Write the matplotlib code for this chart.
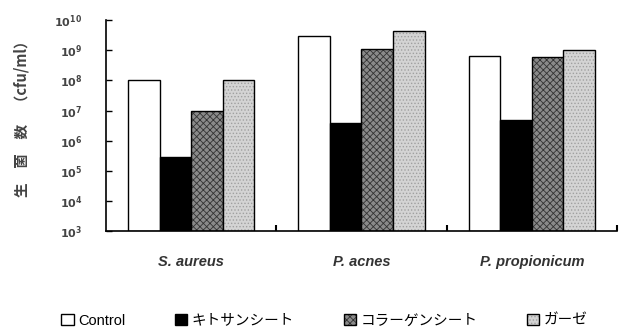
import matplotlib
matplotlib.use("Agg")
import matplotlib.pyplot as plt
import numpy as np

plt.rcParams['font.family'] = ['Liberation Sans', 'Noto Sans CJK JP', 'DejaVu Sans']
plt.rcParams['hatch.linewidth'] = 0.6

categories = ["S. aureus", "P. acnes", "P. propionicum"]
series = ["Control", "キトサンシート", "コラーゲンシート", "ガーゼ"]
control = [1.0e8, 3.0e9, 6.3e8]
chitosan = [2.8e5, 4.0e6, 4.8e6]
collagen = [1.0e7, 1.1e9, 6.0e8]
gauze = [1.0e8, 4.3e9, 1.05e9]
yticks = [1e3, 1e4, 1e5, 1e6, 1e7, 1e8, 1e9, 1e10]
ytick_labels = [r"$\mathbf{10^{%d}}$" % k for k in range(3, 11)]

values = [control, chitosan, collagen, gauze]
faces = ["white", "black", "#8a8a8a", "#d4d4d4"]
hatches = [None, None, "xxxxx", "....."]
hatch_cols = ["black", "black", "#333333", "#a0a0a0"]

fig = plt.figure(figsize=(6.19, 3.34), dpi=100)
ax = fig.add_axes([0.171, 0.308, 0.826, 0.632])

x = np.arange(len(categories))
w = 0.185
handles = []
for i, (vals, fc, h, hc) in enumerate(zip(values, faces, hatches, hatch_cols)):
    pos = x + (i - 1.5) * w
    bars = ax.bar(pos, vals, width=w, bottom=1e3, color=fc, edgecolor="black",
                  linewidth=1.0, hatch=h, label=series[i])
    if h:
        for b in bars:
            b._hatch_color = matplotlib.colors.to_rgba(hc)
    handles.append(bars)

ax.set_yscale("log")
ax.set_ylim(1e3, 1e10)
ax.set_xlim(-0.5, 2.5)
ax.set_yticks(yticks)
ax.set_yticklabels(ytick_labels, fontsize=8, color="#444444")
ax.minorticks_off()
ax.tick_params(axis="y", direction="in", length=4, width=1.0, pad=17)
ax.set_xticks([0.5, 1.5, 2.5])
ax.set_xticklabels([])
ax.tick_params(axis="x", direction="in", length=4, width=1.5)
for c, lab in zip(x, categories):
    ax.text(c, -0.115, lab, transform=ax.get_xaxis_transform(), ha="center", va="top",
            fontsize=10.5, style="italic", fontweight="bold", color="#333333")

ax.spines["top"].set_visible(False)
ax.spines["right"].set_visible(False)
ax.spines["left"].set_linewidth(1.2)
ax.spines["bottom"].set_linewidth(1.2)

fig.text(0.035, 0.656, "生　菌　数　（cfu/ml）", rotation=90, ha="center", va="center",
         fontsize=10.5, color="#444444", fontweight="bold",
         family=['Noto Sans CJK JP', 'DejaVu Sans'])

fig.legend(handles=handles, labels=series, loc="center left", bbox_to_anchor=(0.078, 0.04),
           ncol=4, frameon=False, handlelength=0.85, handleheight=0.85,
           handletextpad=0.3, columnspacing=3.4,
           prop={'family': ['Liberation Sans', 'Noto Sans CJK JP'], 'size': 10.5})

fig.savefig("out.png", dpi=100)
